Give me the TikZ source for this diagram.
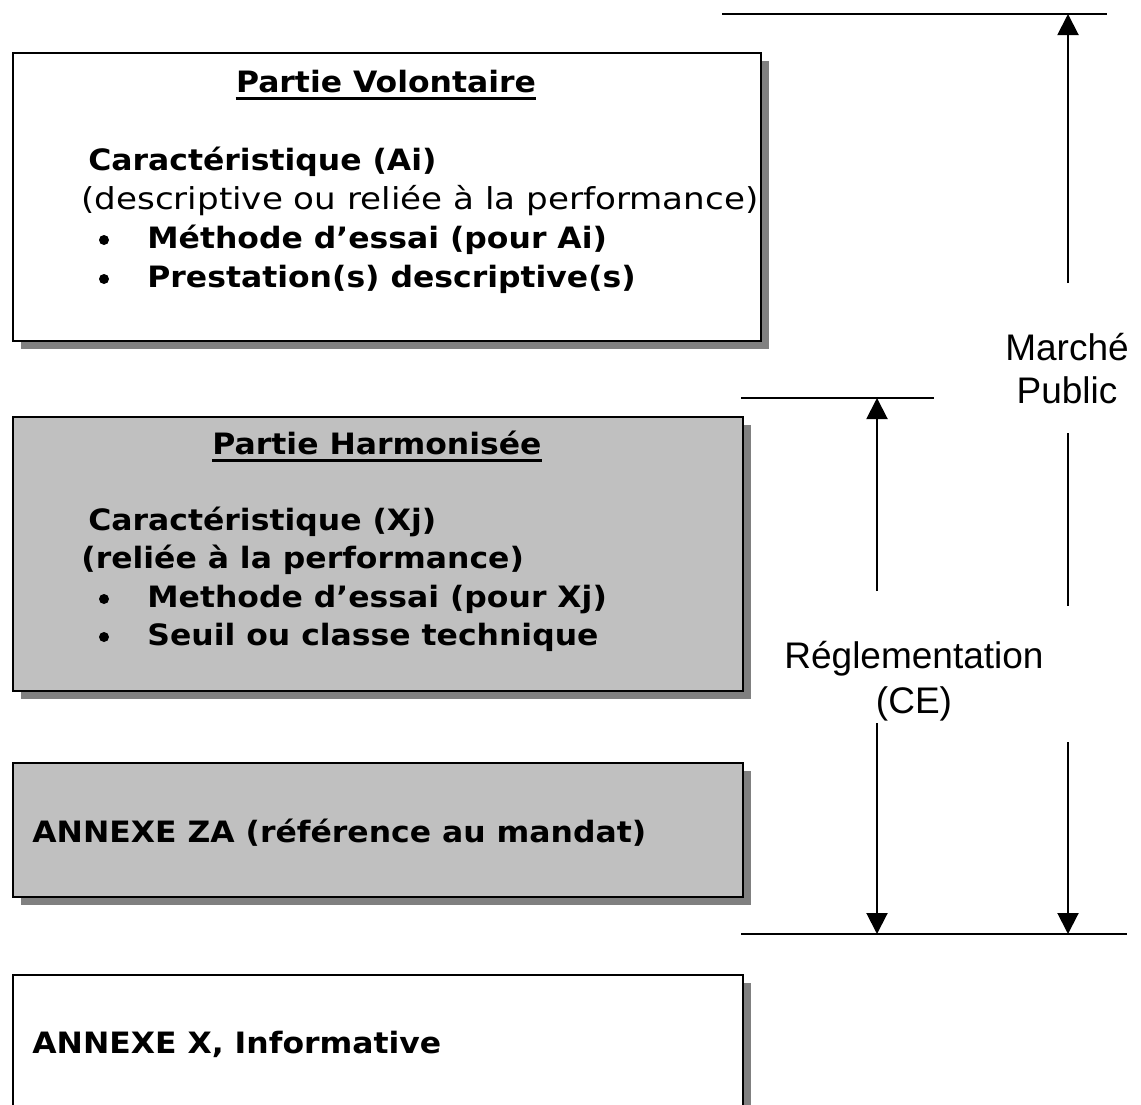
\documentclass[tikz,border=0pt]{standalone}
\usepackage{fontspec}
\setmainfont{DejaVu Sans}[FakeStretch=1.07]
\newfontfamily\widereg{DejaVu Sans}[FakeStretch=1.13]
\newfontfamily\lblfont{Liberation Sans}
\usetikzlibrary{arrows.meta,shadows}
\definecolor{boxgray}{HTML}{C0C0C0}
\definecolor{shadowgray}{HTML}{808080}
\tikzset{
  box/.style={draw=black, line width=1pt, anchor=north west, inner sep=0pt,
    drop shadow={shadow xshift=4pt, shadow yshift=-4pt, fill=shadowgray, opacity=1}},
  txt/.style={inner sep=0pt, anchor=base west, font=\fontsize{14.7pt}{17pt}\selectfont\bfseries},
  ttl/.style={txt, anchor=base},
  regtxt/.style={inner sep=0pt, anchor=base west, font=\widereg\fontsize{15.1pt}{17pt}\selectfont},
  dot/.style={circle, fill=black, inner sep=0pt, minimum size=5pt},
  lbl/.style={inner sep=0pt, anchor=base, font=\lblfont\fontsize{18.5pt}{22pt}\selectfont},
  dimarrow/.style={line width=1pt, -{Triangle[length=10.5pt,width=10.5pt]}},
  dimline/.style={line width=1pt},
  uline/.style={line width=1.3pt}
}
\begin{document}
\begin{tikzpicture}[x=0.5pt, y=-0.5pt]
\useasboundingbox[fill=white] (0,0) rectangle (1141,1104);
\clip (0,0) rectangle (1141,1104);

% boxes
\node[box, fill=white, minimum width=374pt, minimum height=144pt] (vol) at (12,52) {};
\node[box, fill=boxgray, minimum width=365pt, minimum height=137pt] (harm) at (12,416) {};
\node[box, fill=boxgray, minimum width=365pt, minimum height=67pt] (za) at (12,762) {};
\node[box, fill=white, minimum width=365pt, minimum height=100pt] (ax) at (12,974) {};

% box 1 text
\node[ttl] (t1) at (386,92) {Partie Volontaire};
\draw[uline] ([yshift=-3.3pt]t1.base west) -- ([yshift=-3.3pt]t1.base east);
\node[txt] (c1) at (88,170) {Caractéristique (Ai)};
\node[regtxt] (d1) at (81,209) {(descriptive ou reliée à la performance)};
\node[dot] (bu1) at (104,240) {};
\node[txt] (m1) at (147,248) {Méthode d’essai (pour Ai)};
\node[dot] (bu2) at (104,279) {};
\node[txt] (p1) at (147,287) {Prestation(s) descriptive(s)};

% box 2 text
\node[ttl] (t2) at (377,454) {Partie Harmonisée};
\draw[uline] ([yshift=-3.3pt]t2.base west) -- ([yshift=-3.3pt]t2.base east);
\node[txt] (c2) at (88,530) {Caractéristique (Xj)};
\node[txt] (d2) at (81,568) {(reliée à la performance)};
\node[dot] (bu3) at (104,599) {};
\node[txt] (m2) at (147,607) {Methode d’essai (pour Xj)};
\node[dot] (bu4) at (104,637) {};
\node[txt] (s2) at (147,645) {Seuil ou classe technique};

% box 3 and 4 text
\node[txt] (zat) at (32,842) {ANNEXE ZA (référence au mandat)};
\node[txt] (axt) at (32,1053) {ANNEXE X, Informative};

% labels
\node[lbl] (mp1) at (1067,360) {Marché};
\node[lbl] (mp2) at (1067,403) {Public};
\node[lbl] (rg1) at (914,668) {Réglementation};
\node[lbl] (rg2) at (914,713) {(CE)};

% reference lines
\coordinate (topL) at (722,14);
\coordinate (topR) at (1107,14);
\coordinate (midL) at (741,398);
\coordinate (midR) at (934,398);
\coordinate (botL) at (741,934);
\coordinate (botR) at (1127,934);
\draw[dimline] (topL) -- (topR);
\draw[dimline] (midL) -- (midR);
\draw[dimline] (botL) -- (botR);

% Marche public dimension
\coordinate (ma1) at (1068,283);
\coordinate (ma1t) at (1068,14);
\coordinate (ma2) at (1068,433);
\coordinate (ma2e) at (1068,606);
\coordinate (ma3) at (1068,742);
\coordinate (ma3t) at (1068,934);
\draw[dimarrow] (ma1) -- (ma1t);
\draw[dimline] (ma2) -- (ma2e);
\draw[dimarrow] (ma3) -- (ma3t);

% Reglementation dimension
\coordinate (ra1) at (877,591);
\coordinate (ra1t) at (877,398);
\coordinate (ra2) at (877,723);
\coordinate (ra2t) at (877,934);
\draw[dimarrow] (ra1) -- (ra1t);
\draw[dimarrow] (ra2) -- (ra2t);
\end{tikzpicture}
\end{document}
